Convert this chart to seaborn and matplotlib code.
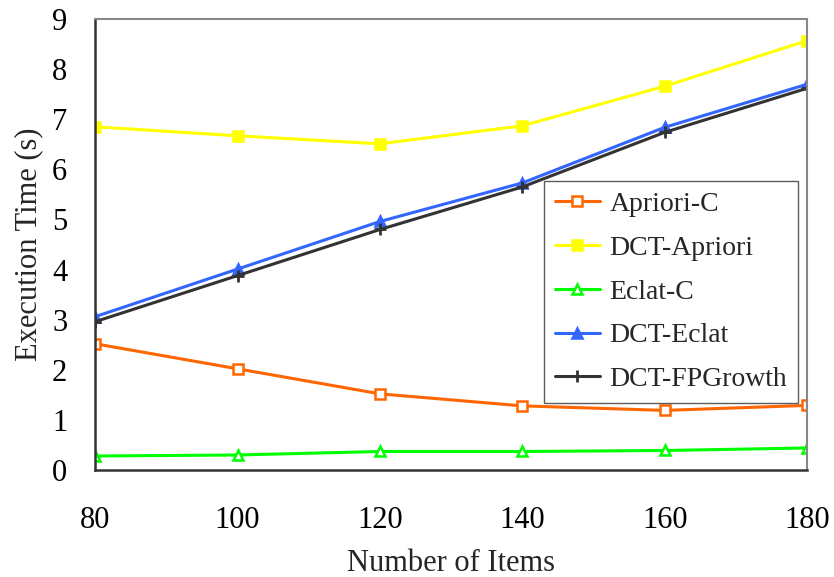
import numpy as np
import pandas as pd
import seaborn as sns
import matplotlib.pyplot as plt

# number of items on the x axis
items = [80, 100, 120, 140, 160, 180]

# execution times (s)
apriori_c = [2.52, 2.02, 1.52, 1.28, 1.19, 1.29]
dct_apriori = [6.85, 6.67, 6.51, 6.87, 7.66, 8.57]
eclat_c = [0.28, 0.30, 0.37, 0.37, 0.39, 0.44]
dct_eclat = [3.06, 4.01, 4.96, 5.73, 6.84, 7.70]
dct_fpgrowth = [2.96, 3.88, 4.80, 5.65, 6.74, 7.62]

series_names = ['Apriori-C', 'DCT-Apriori', 'Eclat-C', 'DCT-Eclat', 'DCT-FPGrowth']
series_values = [apriori_c, dct_apriori, eclat_c, dct_eclat, dct_fpgrowth]

data = pd.DataFrame({
    'items': items * len(series_names),
    'time': np.concatenate(series_values),
    'algorithm': np.repeat(series_names, len(items)),
})

sns.set_theme(style='white')
plt.rcParams['font.family'] = ['Liberation Serif', 'DejaVu Serif']

# color, marker, filled marker?
styles = {
    'Apriori-C': ('#FF6600', 's', False),
    'DCT-Apriori': ('#FFFF00', 's', True),
    'Eclat-C': ('#00FF00', '^', False),
    'DCT-Eclat': ('#3366FF', '^', True),
    'DCT-FPGrowth': ('#333333', '+', True),
}

fig = plt.figure(figsize=(8.34, 5.77), dpi=100)
ax = fig.add_axes([0.114, 0.1854, 0.854, 0.7816])

for name in series_names:
    color, mk, filled = styles[name]
    sub = data[data['algorithm'] == name]
    sns.lineplot(data=sub, x='items', y='time', ax=ax, label=name,
                 color=color, linewidth=2.2, marker=mk,
                 markersize=9 if mk == '+' else 6.5,
                 markeredgewidth=2 if mk == '+' else 1.8,
                 markerfacecolor=color if filled else 'white',
                 markeredgecolor=color)

ax.set_xlim(80, 180)
ax.set_ylim(0, 9)
ax.set_xticks(items)
ax.set_yticks(range(0, 10))
ax.tick_params(axis='both', direction='in', length=6, width=1, color='#333333',
               labelsize=22, labelcolor='black')
ax.tick_params(axis='x', pad=26)
ax.tick_params(axis='y', pad=20)
ax.set_xlabel('Number of Items', fontsize=22, labelpad=10)
ax.set_ylabel('Execution Time (s)', fontsize=22, labelpad=6)

for side in ['left', 'bottom']:
    ax.spines[side].set_color('#333333')
    ax.spines[side].set_linewidth(1.8)
for side in ['top', 'right']:
    ax.spines[side].set_color('#888888')
    ax.spines[side].set_linewidth(1.5)

leg = ax.legend(loc='lower right', bbox_to_anchor=(0.987, 0.148), fontsize=20,
                frameon=True, fancybox=False, edgecolor='#333333',
                handlelength=1.6, handletextpad=0.35, labelspacing=0.66,
                borderpad=0.4, borderaxespad=0.0)
leg.get_frame().set_linewidth(1.0)

fig.savefig('out.png', dpi=100)
